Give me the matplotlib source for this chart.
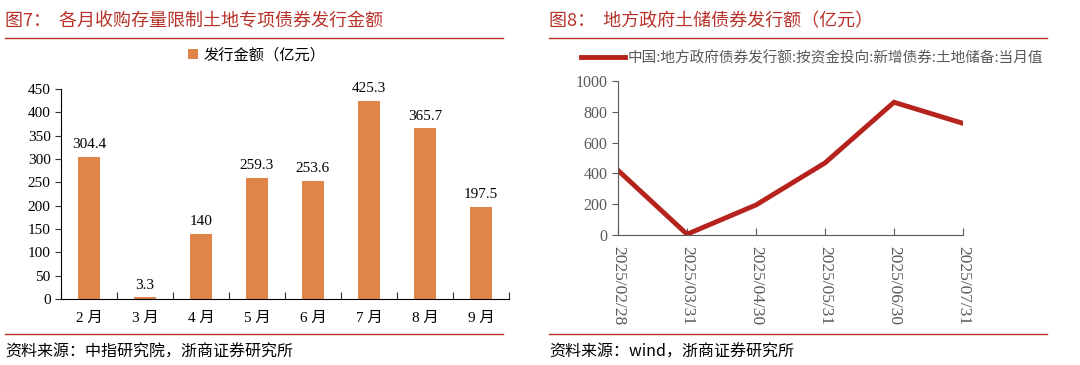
import matplotlib
matplotlib.use("Agg")
import matplotlib.pyplot as plt
from matplotlib.lines import Line2D

plt.rcParams['font.family'] = ['Noto Sans CJK SC', 'DejaVu Sans']

# left chart data
months = ["2 月", "3 月", "4 月", "5 月", "6 月", "7 月", "8 月", "9 月"]
issue_amt = [304.4, 3.3, 140, 259.3, 253.6, 425.3, 365.7, 197.5]

# right chart data
dates = ["2025/02/28", "2025/03/31", "2025/04/30", "2025/05/31", "2025/06/30", "2025/07/31"]
land_reserve = [420, 5, 195, 468, 862, 725]

W, H = 1080, 365
RED = "#B8322A"
BAR = "#E0844A"
LINE = "#B5231C"
GREY = "#595959"
SERIF = ['Liberation Serif', 'Noto Sans CJK SC']

fig = plt.figure(figsize=(W / 100, H / 100), dpi=100)


def px(x0, y0, x1, y1):
    # pixel box (top-left origin) -> figure fraction rect
    return [x0 / W, 1 - y1 / H, (x1 - x0) / W, (y1 - y0) / H]


def header(x0, x1, title, source):
    fig.text(x0 / W, 1 - 21 / H, title, color=RED, fontsize=13, va='center', ha='left')
    fig.add_artist(Line2D([x0 / W, x1 / W], [1 - 38 / H] * 2, color=RED, lw=1))
    fig.add_artist(Line2D([x0 / W, x1 / W], [1 - 334 / H] * 2, color=RED, lw=1))
    fig.text(x0 / W, 1 - 352 / H, source, fontsize=11.5, va='center', ha='left')


header(5, 503, "图7：  各月收购存量限制土地专项债券发行金额", "资料来源：中指研究院，浙商证券研究所")
header(549, 1047, "图8：  地方政府土储债券发行额（亿元）", "资料来源：wind，浙商证券研究所")

# ---- left: bars
ax1 = fig.add_axes(px(61, 89, 509, 299))
x = range(len(months))
ax1.bar(x, issue_amt, width=0.41, color=BAR, label="发行金额（亿元）")
for xi, v in zip(x, issue_amt):
    ax1.text(xi, v + 12, f"{v:g}", ha='center', va='bottom', fontsize=11, family=SERIF)
ax1.set_xlim(-0.5, len(months) - 0.5)
ax1.set_ylim(0, 450)
ax1.set_yticks(range(0, 451, 50))
ax1.set_xticks([i - 0.5 for i in range(len(months) + 1)], minor=False)
ax1.set_xticklabels([])
ax1.set_xticks(list(x), minor=True)
ax1.set_xticklabels(months, minor=True, family=SERIF, fontsize=11)
ax1.tick_params(axis='x', which='minor', length=0, pad=9)
ax1.tick_params(axis='x', which='major', length=5, direction='in', color='#333333')
ax1.tick_params(axis='y', length=4, direction='out', labelsize=11, color='#333333')
for lab in ax1.get_yticklabels():
    lab.set_family(SERIF)
for s in ['top', 'right']:
    ax1.spines[s].set_visible(False)
ax1.legend(loc='center', bbox_to_anchor=((257 - 61) / 448, 1 + 34 / 210), frameon=False,
           fontsize=11, handlelength=0.6, handleheight=0.6, handletextpad=0.4)

# ---- right: line
ax2 = fig.add_axes(px(618, 81, 963, 235))
ax2.plot(range(len(dates)), land_reserve, color=LINE, lw=3.5,
         label="中国:地方政府债券发行额:按资金投向:新增债券:土地储备:当月值", solid_joinstyle='miter')
ax2.set_xlim(0, len(dates) - 1)
ax2.set_ylim(0, 1000)
ax2.set_yticks(range(0, 1001, 200))
ax2.set_xticks(range(len(dates)))
ax2.set_xticklabels(dates, rotation=-90, family=SERIF, fontsize=12.5, color=GREY)
ax2.tick_params(axis='x', length=5, direction='in', color=GREY, pad=8)
ax2.tick_params(axis='y', length=4, direction='out', labelsize=11.5, labelcolor=GREY, color=GREY)
for lab in ax2.get_yticklabels():
    lab.set_family(SERIF)
for s in ['top', 'right']:
    ax2.spines[s].set_visible(False)
for s in ['left', 'bottom']:
    ax2.spines[s].set_color(GREY)
ax2.legend(loc='center', bbox_to_anchor=((812 - 618) / 345, 1 + 23 / 154), frameon=False,
           fontsize=10.5, handlelength=3, handletextpad=0.2, labelcolor=GREY)

fig.savefig("out.png", dpi=100)
